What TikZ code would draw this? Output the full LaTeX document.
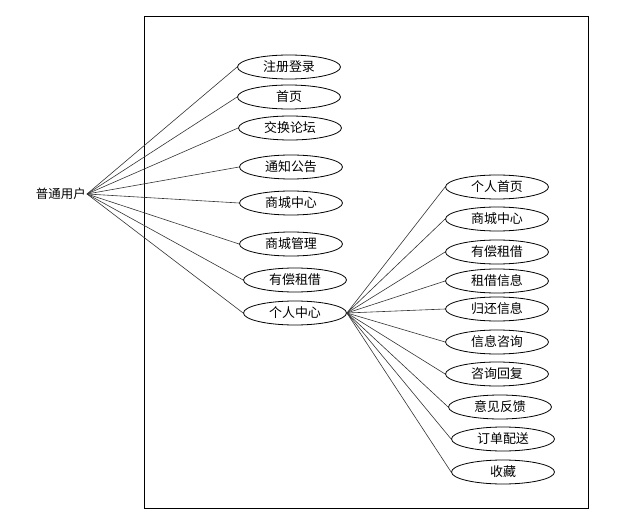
\documentclass[tikz,border=0pt]{standalone}
\usepackage{fontspec}
\setmainfont{Noto Sans CJK SC}
\usetikzlibrary{shapes.geometric}
\tikzset{
  usecase/.style={draw,ellipse,line width=.8bp,minimum width=103bp,minimum height=24bp,inner sep=0pt,font=\fontsize{13}{15}\selectfont},
  link/.style={draw=black!80,line width=.6bp}
}

\begin{document}
\begin{tikzpicture}[x=1bp,y=-1bp]
\useasboundingbox (0,0) rectangle (640,518);
\draw[line width=1bp] (144,17) rectangle (588,508);
\node[anchor=east,inner sep=1bp,font=\fontsize{12.5}{15}\selectfont] (user) at (87,194) {普通用户};
\foreach \i/\x/\y/\name in {1/289/67/注册登录,2/289/97/首页,3/290/128/交换论坛,4/291/167/通知公告,5/291/203/商城中心,6/291/244/商城管理,7/295/280/有偿租借,8/295/313/个人中心}{
  \node[usecase] (l\i) at (\x,\y) {\name};
  \draw[link] (user.east) -- (l\i.west);
}
\foreach \i/\x/\y/\name in {1/497/187/个人首页,2/497/219/商城中心,3/497/252/有偿租借,4/497/281/租借信息,5/497/309/归还信息,6/497/342/信息咨询,7/497/374/咨询回复,8/500/407/意见反馈,9/503/439/订单配送,10/503/472/收藏}{
  \node[usecase] (r\i) at (\x,\y) {\name};
  \draw[link] (l8.east) -- (r\i.west);
}
\end{tikzpicture}
\end{document}
